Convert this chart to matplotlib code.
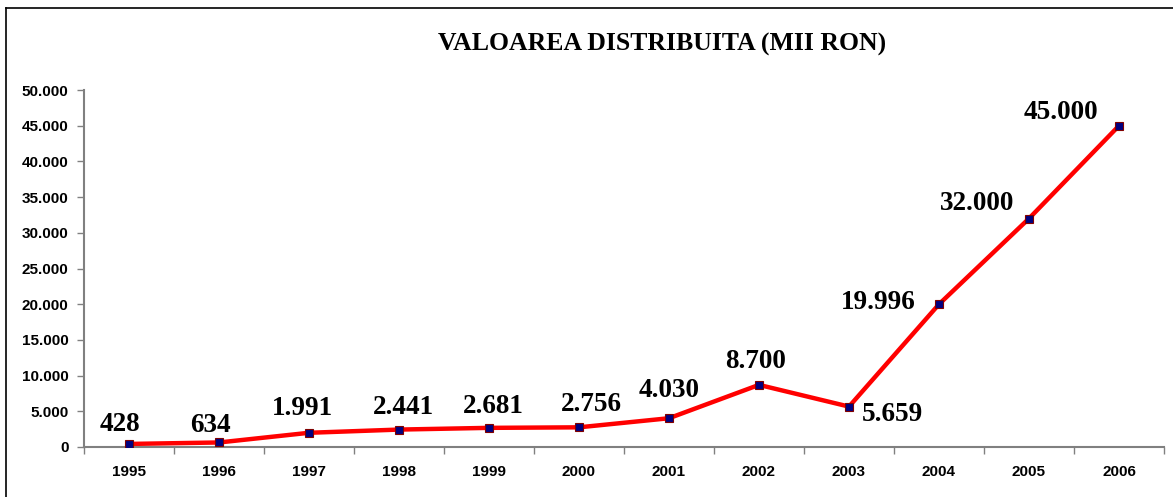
import matplotlib
matplotlib.use("Agg")
import matplotlib.pyplot as plt
from matplotlib.lines import Line2D
import numpy as np

years = ['1995', '1996', '1997', '1998', '1999', '2000',
         '2001', '2002', '2003', '2004', '2005', '2006']
values = [428, 634, 1991, 2441, 2681, 2756, 4030, 8700, 5659, 19996, 32000, 45000]
labels = ['428', '634', '1.991', '2.441', '2.681', '2.756',
          '4.030', '8.700', '5.659', '19.996', '32.000', '45.000']
# label offsets in pixels from each point (dx, dy up)
offsets = [(-9, 19), (-9, 17), (-7, 24), (4, 22), (4, 21), (12, 23),
           (0, 28), (-3, 23), (43, -8), (-61, 2), (-52, 15), (-58, 13)]
yticks = np.arange(0, 50001, 5000)

fig = plt.figure(figsize=(11.73, 4.97), dpi=100)
ax = fig.add_axes([84 / 1173, 50 / 497, 1080 / 1173, 357 / 497])

x = np.arange(len(years))
ax.plot(x, values, color='#ff0000', lw=3.2, zorder=2)
ax.plot(x, values, ls='none', marker='s', ms=6, mfc='#000080', mec='#800000',
        mew=0.8, zorder=3)

for xi, v, lab, (dx, dy) in zip(x, values, labels, offsets):
    ax.annotate(lab, xy=(xi, v), xytext=(dx, dy), textcoords='offset pixels',
                ha='center', va='center', fontsize=19.5, fontweight='bold',
                family='Liberation Serif', color='black', zorder=4)

ax.set_xlim(-0.5, len(years) - 0.5)
ax.set_ylim(0, 50000)
ax.set_yticks(yticks)
ax.set_yticklabels([f"{int(t):,}".replace(',', '.') for t in yticks],
                   fontsize=11, fontweight='bold', family='Liberation Sans')

# year labels centred, ticks between categories
ax.set_xticks(x)
ax.set_xticklabels(years, fontsize=11, fontweight='bold', family='Liberation Sans')
ax.tick_params(axis='x', which='major', length=0, pad=13)
ax.set_xticks(np.arange(-0.5, len(years), 1), minor=True)
ax.tick_params(axis='x', which='minor', length=5, width=1, color='#808080', direction='out')
ax.tick_params(axis='y', length=5, width=1, color='#808080', direction='out', pad=6)

for s in ['top', 'right']:
    ax.spines[s].set_visible(False)
for s in ['left', 'bottom']:
    ax.spines[s].set_color('#808080')
    ax.spines[s].set_linewidth(1.5)

fig.text(662 / 1173, 1 - 44 / 497, 'VALOAREA DISTRIBUITA (MII RON)', ha='center',
         va='center', fontsize=18.5, fontweight='bold', family='Liberation Serif')

# outer frame (only top and left visible)
fig.add_artist(Line2D([6 / 1173, 6 / 1173], [0, 1 - 8 / 497], color='black', lw=1.2,
                      transform=fig.transFigure))
fig.add_artist(Line2D([6 / 1173, 1], [1 - 8 / 497, 1 - 8 / 497], color='black', lw=1.2,
                      transform=fig.transFigure))

fig.savefig('out.png', dpi=100, facecolor='white')
